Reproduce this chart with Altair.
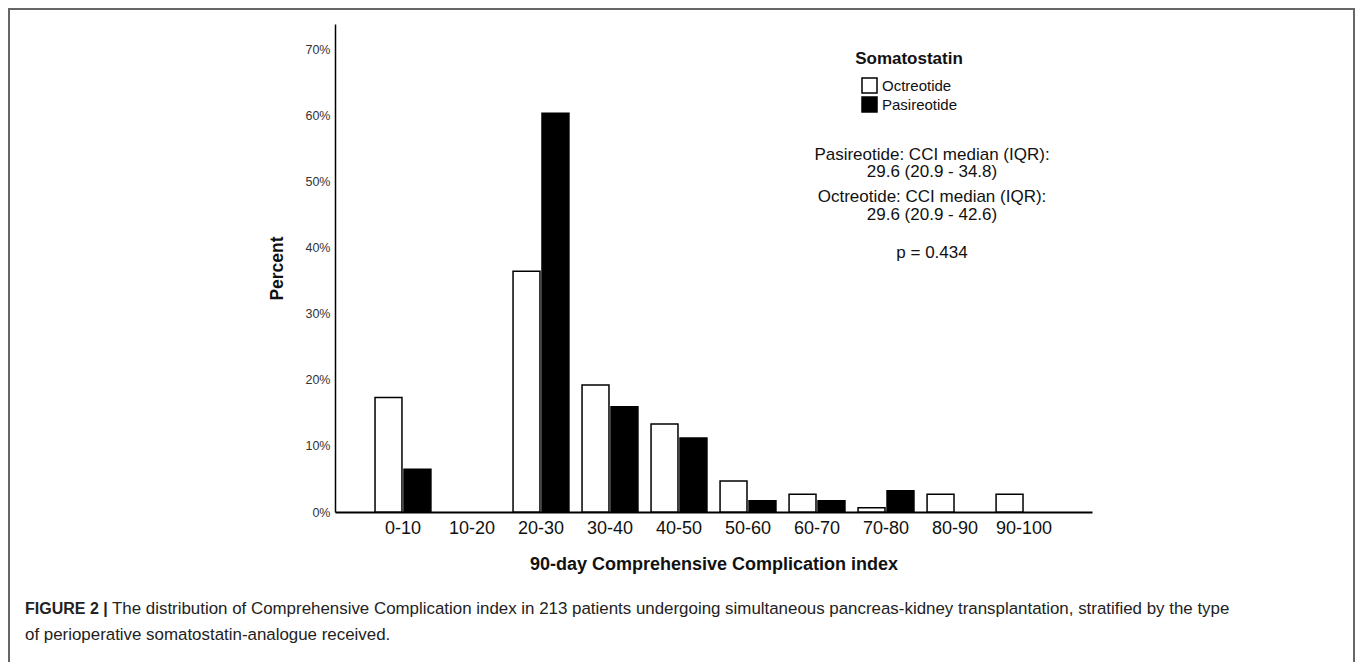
import altair as alt
import pandas as pd

categories = ["0-10", "10-20", "20-30", "30-40", "40-50", "50-60", "60-70", "70-80", "80-90", "90-100"]
octreotide = [17.3, 0.0, 36.4, 19.2, 13.3, 4.7, 2.7, 0.65, 2.7, 2.7]
pasireotide = [6.45, 0.0, 60.3, 15.9, 11.2, 1.7, 1.7, 3.2, 0.0, 0.0]
groups = ["Octreotide", "Pasireotide"]
y_ticks = [0, 10, 20, 30, 40, 50, 60, 70]

rows = []
for c, o, p in zip(categories, octreotide, pasireotide):
    rows.append({"cat": c, "group": groups[0], "value": o})
    rows.append({"cat": c, "group": groups[1], "value": p})
df = pd.DataFrame(rows)

FONT = "Liberation Sans"
W, H = 757, 488
PL, PT = 335, 24

bars = alt.Chart(df).transform_filter("datum.value > 0").mark_bar(
    stroke="black", strokeWidth=1.5
).encode(
    x=alt.X("cat:N", sort=categories,
            scale=alt.Scale(domain=categories, paddingInner=0.19, paddingOuter=0.58),
            axis=alt.Axis(title="90-day Comprehensive Complication index", labelAngle=0,
                          ticks=False, labelPadding=7, labelFontSize=18, labelColor="#111",
                          titleFontSize=18, titleFontWeight="bold", titlePadding=18,
                          titleColor="#111", domainColor="black", domainWidth=2)),
    xOffset=alt.XOffset("group:N", sort=groups, scale=alt.Scale(paddingInner=0.07)),
    y=alt.Y("value:Q", scale=alt.Scale(domain=[0, 73.8], nice=False),
            axis=alt.Axis(title="Percent", values=y_ticks, labelExpr="datum.value + '%'",
                          ticks=False, grid=False, labelPadding=5, labelFontSize=12.5,
                          labelColor="#333", titleFontSize=17.5, titleFontWeight="bold",
                          titleColor="#111", titlePadding=18, domainColor="black",
                          domainWidth=1.5)),
    color=alt.Color("group:N", sort=groups,
                    scale=alt.Scale(domain=groups, range=["white", "black"]),
                    legend=alt.Legend(title="Somatostatin", orient="none", legendX=520, legendY=27,
                                      titleFontSize=17, titleFontWeight="bold", titleAnchor="middle",
                                      titleColor="#111", titlePadding=9,
                                      labelFontSize=15, labelColor="#111", labelOffset=4,
                                      symbolType="square", symbolSize=225,
                                      symbolStrokeColor="black", symbolStrokeWidth=1.5,
                                      rowPadding=-3)),
)

def txt(s, x, y, size=17, weight="normal", align="center", color="#111", lh=16.5):
    return alt.Chart().mark_text(
        text=s, font=FONT, fontSize=size, fontWeight=weight, align=align,
        baseline="top", color=color, lineBreak="\n", lineHeight=lh
    ).encode(x=alt.value(x), y=alt.value(y))

ann1 = txt("Pasireotide: CCI median (IQR):\n29.6 (20.9 - 34.8)", 597, 123)
ann2 = txt("Octreotide: CCI median (IQR):\n29.6 (20.9 - 42.6)", 597, 165, lh=18)
ann3 = txt("p = 0.434", 597, 221)

cap1a = txt("FIGURE 2 |", 25 - PL, 577, size=16, weight="bold", align="left", color="#222")
cap1b = txt("The distribution of Comprehensive Complication index in 213 patients undergoing simultaneous pancreas-kidney transplantation, stratified by the type",
            112 - PL, 577, size=16.9, align="left", color="#222")
cap2 = txt("of perioperative somatostatin-analogue received.", 25 - PL, 603, size=16.9, align="left", color="#222")

border = alt.Chart().mark_rect(fill=None, stroke="#666", strokeWidth=2).encode(
    x=alt.value(9 - PL), x2=alt.value(1354 - PL), y=alt.value(9 - PT), y2=alt.value(700)
)

chart = alt.layer(border, bars, ann1, ann2, ann3, cap1a, cap1b, cap2).properties(
    width=W, height=H,
    autosize=alt.AutoSizeParams(type="none"),
    padding={"left": PL, "top": PT, "right": 1357 - PL - W, "bottom": 662 - PT - H},
    background="white",
).configure(font=FONT).configure_view(strokeWidth=0, stroke="transparent")

chart.save("out.html", embed_options={"renderer": "svg", "actions": False})
